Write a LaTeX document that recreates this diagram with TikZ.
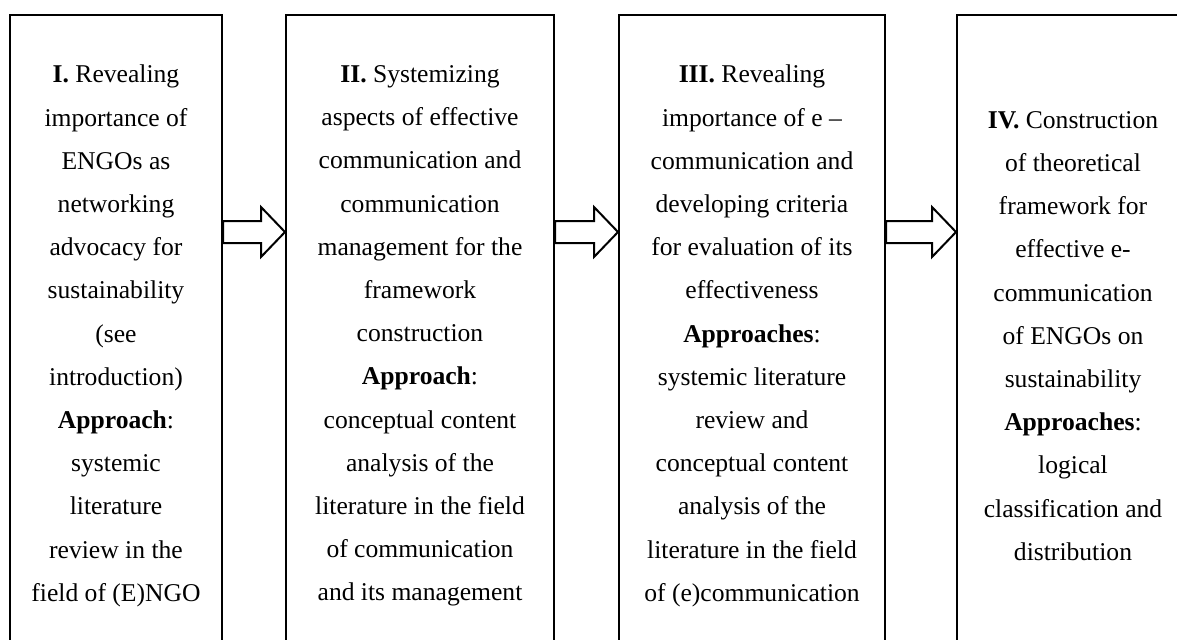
\documentclass[tikz,border=0pt]{standalone}
\usepackage{fontspec}
\setmainfont{Liberation Serif}
\usetikzlibrary{calc}
\begin{document}
\begin{tikzpicture}[x=0.5pt,y=-0.5pt,
  box/.style={draw=black, line width=1pt, rectangle, inner sep=0pt, minimum height=332.5pt},
  txt/.style={align=center, inner sep=0pt, font=\fontsize{12.8}{21.6}\selectfont},
  arr/.style={draw=black, line width=1pt, line join=miter, fill=white}]
\useasboundingbox (0,0) rectangle (1177,639);
\clip (0,0) rectangle (1177,639);
\node[box, minimum width=106pt] (b1) at (116,347.5) {};
\node[box, minimum width=134pt] (b2) at (420,347.5) {};
\node[box, minimum width=133pt] (b3) at (752,347.5) {};
\node[box, minimum width=116.5pt] (b4) at (1073.5,347.5) {};
\coordinate (ay) at (0,232);
\foreach \a/\b in {b1/b2,b2/b3,b3/b4}{
  \draw[arr] ($(\a.east|-ay)+(0,-11)$) -- ($(\b.west|-ay)+(-24,-11)$) -- ($(\b.west|-ay)+(-24,-25)$)
    -- (\b.west|-ay) -- ($(\b.west|-ay)+(-24,25)$) -- ($(\b.west|-ay)+(-24,11)$)
    -- ($(\a.east|-ay)+(0,11)$) -- cycle;
}
\node[txt] (t1) at (116,336) {\textbf{I.} Revealing\\importance of\\ENGOs as\\networking\\advocacy for\\sustainability\\(see\\introduction)\\\textbf{Approach}:\\systemic\\literature\\review in the\\field of (E)NGO};
\node[txt] (t2) at (420,336) {\textbf{II.} Systemizing\\aspects of effective\\communication and\\communication\\management for the\\framework\\construction\\\textbf{Approach}:\\conceptual content\\analysis of the\\literature in the field\\of communication\\and its management};
\node[txt] (t3) at (752,336) {\textbf{III.} Revealing\\importance of e –\\communication and\\developing criteria\\for evaluation of its\\effectiveness\\\textbf{Approaches}:\\systemic literature\\review and\\conceptual content\\analysis of the\\literature in the field\\of (e)communication};
\node[txt] (t4) at (1073,336) {\textbf{IV.} Construction\\of theoretical\\framework for\\effective e-\\communication\\of ENGOs on\\sustainability\\\textbf{Approaches}:\\logical\\classification and\\distribution};
\end{tikzpicture}
\end{document}
